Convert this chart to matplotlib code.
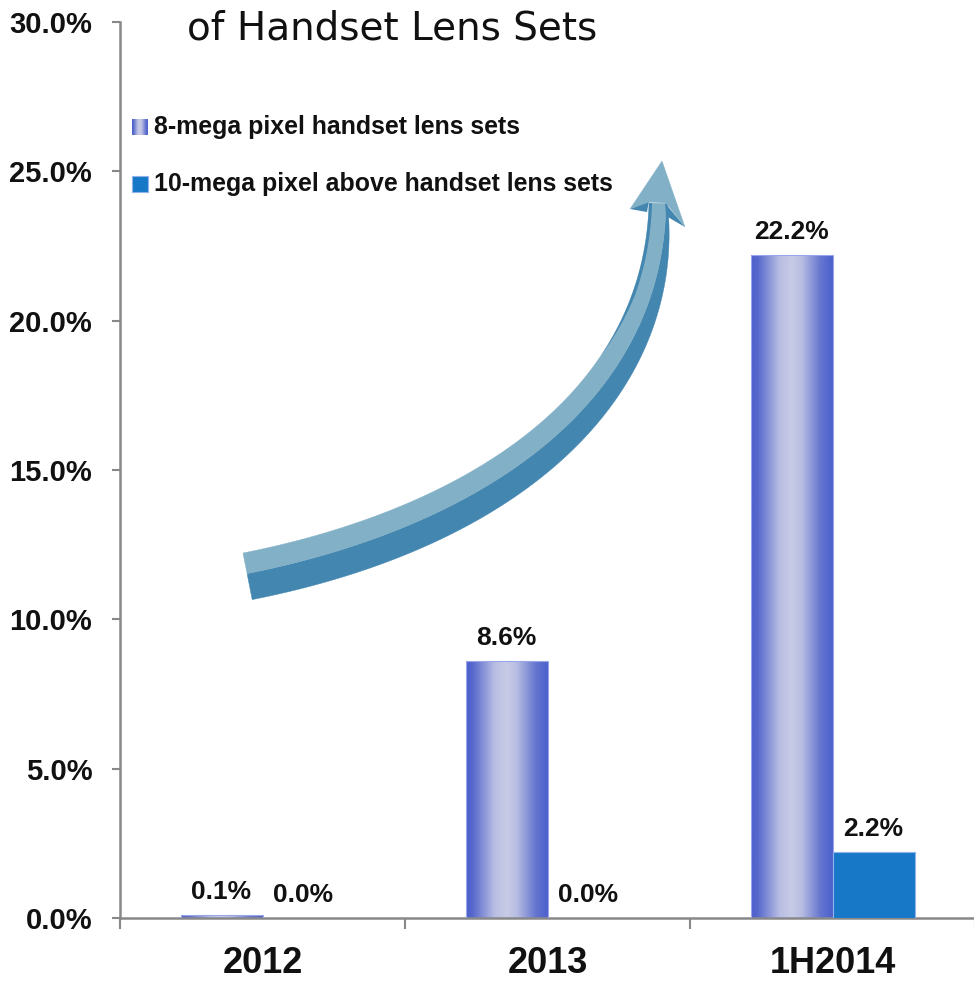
import numpy as np
import matplotlib
matplotlib.use("Agg")
import matplotlib.pyplot as plt
from matplotlib.colors import LinearSegmentedColormap
from matplotlib.patches import Polygon

# ---------------- data ----------------
categories = ["2012", "2013", "1H2014"]
series_names = ["8-mega pixel handset lens sets",
                "10-mega pixel above handset lens sets"]
mp8_values = [0.1, 8.6, 22.2]
mp10_values = [0.0, 0.0, 2.2]
y_ticks = [0, 5, 10, 15, 20, 25, 30]
title_text = "of Handset Lens Sets"

# ---------------- styles ----------------
W, H = 974, 982
fig = plt.figure(figsize=(W / 100, H / 100), dpi=100)
bold_font = ["Liberation Sans", "DejaVu Sans"]

grad_cmap = LinearSegmentedColormap.from_list(
    "g", [(0.0, "#4c60cc"), (0.08, "#5668cc"), (0.35, "#b9bee3"),
          (0.5, "#c8cbe6"), (0.62, "#b8bde2"), (0.85, "#6576d0"),
          (1.0, "#4c60cc")])
solid_blue = "#1878c8"
axis_gray = "#888888"

left, right, top, bottom = 120, 975, 22, 918
ax = fig.add_axes([left / W, (H - bottom) / H, (right - left) / W, (bottom - top) / H])

x = np.arange(len(categories))
bw = 82 / 285
grad = np.linspace(0, 1, 256).reshape(1, -1)

bars8 = ax.bar(x - bw / 2, mp8_values, width=bw, color="none",
               edgecolor="#9aa6ea", linewidth=0.8, zorder=3)
for rect in bars8:
    x0 = rect.get_x()
    h = rect.get_height()
    im = ax.imshow(grad, extent=[x0, x0 + bw, 0, h], aspect="auto",
                   cmap=grad_cmap, zorder=2, interpolation="bilinear")
    im.set_clip_path(rect)

bars10 = ax.bar(x + bw / 2, mp10_values, width=bw, color=solid_blue,
                edgecolor="#8fb4ea", linewidth=0.8, zorder=3)

for rect, v in list(zip(bars8, mp8_values)) + list(zip(bars10, mp10_values)):
    ax.annotate(f"{v:.1f}%", (rect.get_x() + rect.get_width() / 2, v),
                xytext=(0, 11.5), textcoords="offset points",
                ha="center", va="baseline", fontsize=19, fontweight="bold",
                family=bold_font, color="#111111", zorder=5)

ax.set_xlim(-0.5, len(categories) - 0.5)
ax.set_ylim(0, 30)
ax.set_yticks(y_ticks)
ax.set_yticklabels([f"{t:.1f}%" for t in y_ticks], fontsize=21,
                   fontweight="bold", family=bold_font, color="#111111")
ax.set_xticks(x)
ax.set_xticklabels(categories, fontsize=26, fontweight="bold",
                   family=bold_font, color="#111111")
ax.set_xticks(np.arange(-0.5, len(categories)), minor=True)
ax.tick_params(axis="x", which="major", length=0, pad=20)
ax.tick_params(axis="x", which="minor", length=8, width=1.5, color=axis_gray)
ax.tick_params(axis="y", length=6, width=1.5, color=axis_gray, pad=14)
for s in ["top", "right"]:
    ax.spines[s].set_visible(False)
for s in ["left", "bottom"]:
    ax.spines[s].set_color(axis_gray)
    ax.spines[s].set_linewidth(1.8)
ax.set_facecolor("none")

# ---------------- overlay (pixel coordinates) ----------------
ov = fig.add_axes([0, 0, 1, 1])
ov.axis("off")
ov.set_facecolor("none")

fig.text(187 / W, 1 - 40 / H, title_text, fontsize=28,
         family=["DejaVu Sans"], color="#111111", va="baseline", ha="left")

# legend
leg_rows = [(127, "grad"), (184, "solid")]
for (yc, kind), name in zip(leg_rows, series_names):
    if kind == "grad":
        ov.imshow(grad, extent=[132, 148, yc + 8, yc - 8], aspect="auto",
                  cmap=grad_cmap, zorder=4)
    else:
        ov.add_patch(plt.Rectangle((132, yc - 8), 16, 16, facecolor=solid_blue,
                                   edgecolor="#8fb4ea", linewidth=0.8, zorder=4))
    ov.text(154, yc, name, fontsize=17.9, fontweight="bold", family=bold_font,
            va="center", ha="left", color="#111111", zorder=5)

# curved arrow (decoration, pixel coordinates): smooth cubic Bezier fitted
# to the traced upper edge of the ribbon
edge_pts = np.array([(243, 553), (330, 530), (430, 493), (513, 447),
                     (568, 395), (607, 350), (627, 305), (640, 258), (649, 203)],
                    dtype=float)
P0, P3 = edge_pts[0], edge_pts[-1]
ch = np.concatenate([[0], np.cumsum(np.linalg.norm(np.diff(edge_pts, axis=0), axis=1))])
tq = ch / ch[-1]
for _ in range(4):
    b0 = (1 - tq) ** 3
    b1 = 3 * (1 - tq) ** 2 * tq
    b2 = 3 * (1 - tq) * tq ** 2
    b3 = tq ** 3
    A = np.column_stack([b1, b2])
    rhs = edge_pts - np.outer(b0, P0) - np.outer(b3, P3)
    sol, *_ = np.linalg.lstsq(A, rhs, rcond=None)
    P1, P2 = sol
    td = np.linspace(0, 1, 2000)
    Bd = (np.outer((1 - td) ** 3, P0) + np.outer(3 * (1 - td) ** 2 * td, P1) +
          np.outer(3 * (1 - td) * td ** 2, P2) + np.outer(td ** 3, P3))
    idx = [np.argmin(np.linalg.norm(Bd - q, axis=1)) for q in edge_pts]
    tq = td[idx]
    tq[0], tq[-1] = 0.0, 1.0

t = np.linspace(0, 1, 300)[:, None]
U = (1 - t) ** 3 * P0 + 3 * (1 - t) ** 2 * t * P1 + 3 * (1 - t) * t ** 2 * P2 + t ** 3 * P3
D = 3 * (1 - t) ** 2 * (P1 - P0) + 6 * (1 - t) * t * (P2 - P1) + 3 * t ** 2 * (P3 - P2)
D /= np.linalg.norm(D, axis=1)[:, None]
N = np.column_stack([D[:, 1], -D[:, 0]])  # up-left normal (y down)
seg = np.linalg.norm(np.diff(U, axis=0), axis=1)
s = np.concatenate([[0], np.cumsum(seg)]) / seg.sum()
wl = (21 - 4 * s ** 2)[:, None]
wd = (25 * (1 - s ** 3) + 1.5)[:, None]
M = U - N * wl
L = M - N * wd
light_c = "#82b0c6"
dark_c = "#4386b0"
ov.add_patch(Polygon(np.vstack([M, L[::-1]]), closed=True, facecolor=dark_c,
                     edgecolor=dark_c, linewidth=0.3, zorder=3))
ov.add_patch(Polygon(np.vstack([U, M[::-1]]), closed=True, facecolor=light_c,
                     edgecolor=light_c, linewidth=0.3, zorder=3))
# thin darker sliver on the upper part's left side (tapered)
k = s > 0.72
sl = U[k]
taper = np.clip((s[k] - 0.72) / 0.12, 0, 1)[:, None] * 3.0
ov.add_patch(Polygon(np.vstack([sl, (sl - N[k] * taper)[::-1]]), closed=True,
                     facecolor=dark_c, edgecolor="none", zorder=3.5))

tip = (662, 161)
ov.add_patch(Polygon([(665, 203), (685, 227), (666, 216)], closed=True,
                     facecolor=dark_c, edgecolor="none", zorder=3))
ov.add_patch(Polygon([(630, 209), (649, 201), (647, 212)], closed=True,
                     facecolor=dark_c, edgecolor="none", zorder=3))
ov.add_patch(Polygon([tip, (630, 209), (649, 202), (666, 203), (685, 227)],
                     closed=True, facecolor=light_c, edgecolor=light_c,
                     linewidth=0.3, zorder=4))
ov.set_xlim(0, W)
ov.set_ylim(H, 0)

fig.savefig("out.png", dpi=100)
